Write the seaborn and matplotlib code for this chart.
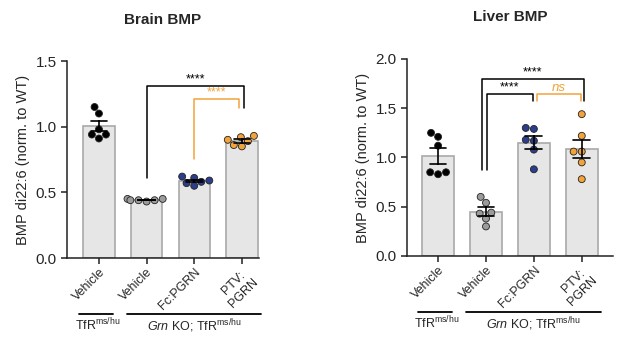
import numpy as np
import pandas as pd
import matplotlib
matplotlib.use("Agg")
import matplotlib.pyplot as plt
import seaborn as sns
from matplotlib.transforms import blended_transform_factory

sns.set_theme(style="ticks")
plt.rcParams['font.family'] = ['Liberation Sans', 'DejaVu Sans']
plt.rcParams['mathtext.fontset'] = 'custom'
plt.rcParams['mathtext.rm'] = 'Liberation Sans'
plt.rcParams['mathtext.it'] = 'Liberation Sans:italic'

# ---------------- data ----------------
groups = ["Vehicle_WT", "Vehicle_KO", "Fc:PGRN", "PTV:PGRN"]
tick_labels = ["Vehicle", "Vehicle", "Fc:PGRN", "PTV:\nPGRN"]

brain_wt_vehicle = [1.15, 1.10, 0.98, 0.91, 0.94, 0.94]
brain_ko_vehicle = [0.44, 0.45, 0.45, 0.44, 0.43, 0.44]
brain_fc_pgrn = [0.61, 0.55, 0.59, 0.62, 0.57, 0.58]
brain_ptv_pgrn = [0.90, 0.93, 0.92, 0.89, 0.85, 0.86]

liver_wt_vehicle = [0.83, 1.21, 1.25, 1.12, 0.85, 0.85]
liver_ko_vehicle = [0.60, 0.54, 0.43, 0.44, 0.38, 0.30]
liver_fc_pgrn = [1.29, 1.30, 1.17, 1.18, 1.08, 0.88]
liver_ptv_pgrn = [1.44, 1.22, 1.06, 1.06, 0.95, 0.78]

point_colors = ["#000000", "#9b9b9b", "#2b3d8c", "#f2a33a"]
orange = "#f2a33a"


def make_df(series):
    rows = []
    for g, vals in zip(groups, series):
        for v in vals:
            rows.append({"group": g, "value": v})
    return pd.DataFrame(rows)


brain_df = make_df([brain_wt_vehicle, brain_ko_vehicle, brain_fc_pgrn, brain_ptv_pgrn])
liver_df = make_df([liver_wt_vehicle, liver_ko_vehicle, liver_fc_pgrn, liver_ptv_pgrn])

fig = plt.figure(figsize=(6.24, 3.42), dpi=100)
ax1 = fig.add_axes([0.1074, 0.2456, 0.3077, 0.576])
ax2 = fig.add_axes([0.6522, 0.2515, 0.330, 0.576])


def draw_panel(ax, df, title, ylim, yticks, xlim):
    sns.barplot(data=df, x="group", y="value", order=groups, ax=ax,
                errorbar="se", capsize=0.35, width=0.66,
                color="#e6e6e6", edgecolor="#a9a9a9", linewidth=1.2,
                err_kws={"color": "black", "linewidth": 1.2, "zorder": 5})
    for p in ax.patches:
        p.set_facecolor("#e6e6e6")
    sns.swarmplot(data=df, x="group", y="value", order=groups, hue="group",
                  hue_order=groups, palette=point_colors, ax=ax, size=5.0,
                  edgecolor="#222222", linewidth=0.6, legend=False,
                  warn_thresh=1.0)
    ax.set_ylim(*ylim)
    ax.set_yticks(yticks)
    ax.set_yticklabels([f"{t:.1f}" for t in yticks], fontsize=11)
    ax.set_xlim(*xlim)
    ax.set_xticks(range(4))
    ax.set_xticklabels(tick_labels, rotation=45, ha="right",
                       rotation_mode="anchor", fontsize=9,
                       multialignment="center")
    ax.set_xlabel("")
    ax.set_ylabel("BMP di22:6 (norm. to WT)", fontsize=10.5)
    ax.set_title(title, fontsize=11, fontweight="bold", pad=27)
    for s in ["top", "right"]:
        ax.spines[s].set_visible(False)
    for s in ["left", "bottom"]:
        ax.spines[s].set_linewidth(1.1)
        ax.spines[s].set_color("#222222")
    ax.tick_params(axis="both", length=4, width=1.1, color="#222222")
    ax.tick_params(axis="x", pad=2)

    trans = blended_transform_factory(ax.transData, ax.transAxes)
    ax.plot([-0.42, 0.29], [-0.284, -0.284], transform=trans, color="black",
            lw=1.3, clip_on=False)
    ax.plot([0.59, 3.40], [-0.284, -0.284], transform=trans, color="black",
            lw=1.3, clip_on=False)
    ax.text(-0.03, -0.30, r"TfR$^{\mathrm{ms/hu}}$", transform=trans,
            ha="center", va="top", fontsize=9)
    ax.text(2.0, -0.30, r"$\mathit{Grn}$ KO; TfR$^{\mathrm{ms/hu}}$",
            transform=trans, ha="center", va="top", fontsize=9)


def bracket(ax, x1, x2, ytop, yb1, yb2, text, color, italic=False, fs=9):
    ax.plot([x1, x1, x2, x2], [yb1, ytop, ytop, yb2], color=color, lw=1.1,
            clip_on=False)
    ax.text((x1 + x2) / 2, ytop + 0.003 * (ax.get_ylim()[1]), text,
            ha="center", va="bottom", color=color, fontsize=fs,
            fontstyle="italic" if italic else "normal")


draw_panel(ax1, brain_df, "Brain BMP", (0, 1.5), [0.0, 0.5, 1.0, 1.5], (-0.67, 3.36))
draw_panel(ax2, liver_df, "Liver BMP", (0, 2.0), [0.0, 0.5, 1.0, 1.5, 2.0], (-0.65, 3.65))

bracket(ax1, 1.0, 3.04, 1.31, 0.61, 1.14, "****", "black")
bracket(ax1, 2.0, 2.93, 1.21, 0.755, 1.14, "****", orange)

bracket(ax2, 0.92, 3.04, 1.80, 0.87, 1.57, "****", "black")
bracket(ax2, 1.02, 1.98, 1.64, 0.87, 1.57, "****", "black")
bracket(ax2, 2.06, 2.98, 1.64, 1.57, 1.57, "ns", orange, italic=True, fs=9.5)

fig.savefig("out.png", dpi=100)
